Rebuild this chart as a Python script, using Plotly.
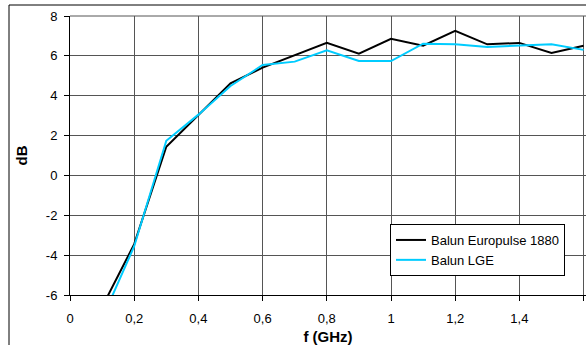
import plotly.graph_objects as go

freq_ghz = [0.1, 0.2, 0.3, 0.4, 0.5, 0.6, 0.7, 0.8, 0.9, 1.0, 1.1, 1.2, 1.3, 1.4, 1.5, 1.6]
europulse_db = [-6.6, -3.45, 1.44, 3.05, 4.62, 5.41, 6.05, 6.66, 6.11, 6.86, 6.51, 7.25, 6.58, 6.65, 6.15, 6.51]
lge_db = [-7.2, -3.55, 1.74, 3.05, 4.49, 5.54, 5.71, 6.28, 5.74, 5.74, 6.61, 6.58, 6.45, 6.53, 6.58, 6.30]

x_tickvals = [0, 0.2, 0.4, 0.6, 0.8, 1.0, 1.2, 1.4, 1.6]
x_ticktext = ["0", "0,2", "0,4", "0,6", "0,8", "1", "1,2", "1,4", "1,6"]
y_tickvals = [-6, -4, -2, 0, 2, 4, 6, 8]
y_ticktext = ["-6", "-4", "-2", "0", "2", "4", "6", "8"]

W, H = 586, 345
L, R, T, B = 70, 0, 16, 50
FONT = "Arial, Liberation Sans, sans-serif"

fig = go.Figure()
fig.add_trace(go.Scatter(x=freq_ghz, y=europulse_db, mode="lines", name="Balun Europulse 1880",
                         line=dict(color="#000000", width=2)))
fig.add_trace(go.Scatter(x=freq_ghz, y=lge_db, mode="lines", name="Balun LGE",
                         line=dict(color="#00CCFF", width=2)))

pw = W - L - R
ph = H - T - B
def px_x(p):
    return (p - L) / pw
def px_y(p):
    return (H - B - p) / ph

fig.update_layout(
    width=W, height=H,
    margin=dict(l=L, r=R, t=T, b=B, pad=0, autoexpand=False),
    paper_bgcolor="white", plot_bgcolor="white",
    font=dict(family=FONT, size=13, color="#000000"),
    showlegend=True,
    legend=dict(
        x=px_x(390), y=px_y(224), xanchor="left", yanchor="top",
        bgcolor="white", bordercolor="#000000", borderwidth=1,
        font=dict(family=FONT, size=13, color="#000000"),
        tracegroupgap=0,
    ),
    xaxis=dict(
        range=[0, (W - L - R) / 321.0],
        tickvals=x_tickvals, ticktext=x_ticktext,
        showgrid=True, gridcolor="#555555", gridwidth=1,
        showline=True, linecolor="#000000", linewidth=1,
        ticks="outside", ticklen=5, tickcolor="#000000",
        ticklabelstandoff=6,
        zeroline=False, automargin=False,
        title=dict(text="<b>f (GHz)</b>", font=dict(family=FONT, size=15), standoff=6),
    ),
    yaxis=dict(
        range=[-6, 8],
        tickvals=y_tickvals, ticktext=y_ticktext,
        showgrid=True, gridcolor="#555555", gridwidth=1,
        showline=True, linecolor="#000000", linewidth=1,
        ticks="outside", ticklen=5, tickcolor="#000000",
        ticklabelstandoff=4,
        zeroline=False, automargin=False,
        title=dict(text="<b>dB</b>", font=dict(family=FONT, size=15), standoff=14),
    ),
    shapes=[
        dict(type="rect", xref="paper", yref="paper",
             x0=px_x(9), x1=px_x(700), y0=px_y(420), y1=px_y(5),
             line=dict(color="#000000", width=1), fillcolor="rgba(0,0,0,0)", layer="below"),
        dict(type="line", xref="paper", yref="paper",
             x0=0, x1=1, y0=1, y1=1, line=dict(color="#555555", width=1)),
    ],
)

fig.write_html(
    "out.html",
    config={"displayModeBar": False},
    post_script="document.body.style.margin='0';document.body.style.overflow='hidden';",
)
